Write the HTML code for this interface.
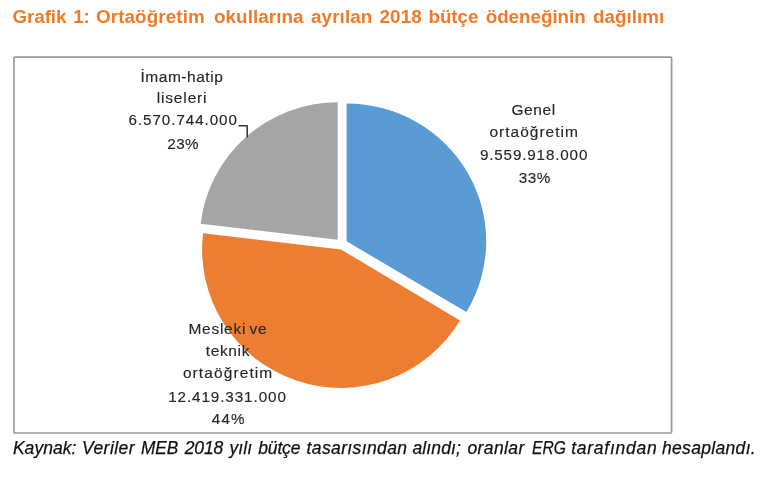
<!DOCTYPE html>
<html lang="tr">
<head>
<meta charset="utf-8">
<title>Grafik 1: Ortaöğretim okullarına ayrılan 2018 bütçe ödeneğinin dağılımı</title>
<style>
html,body{margin:0;padding:0;background:#fff}
body{width:770px;height:477px;position:relative;overflow:hidden;font-family:"Liberation Sans",sans-serif}
h1,figure,figcaption{margin:0;padding:0}
.ln{position:absolute;white-space:pre}
h1,figcaption{position:absolute;left:0;width:770px;white-space:pre}
h1 span,figcaption span{position:absolute;top:0;transform-origin:0 50%}
h1{top:4px;height:25px;font-weight:bold;font-size:18.8px;line-height:25px;color:#f07a28}
figcaption{top:436px;height:24px;font-style:italic;font-size:17.5px;line-height:24px;color:#101010;-webkit-text-stroke:0.25px #101010}
.lab .ln{font-size:15.5px;line-height:21px;color:#262626;-webkit-text-stroke:0.15px #262626}
.lab .ln.d{font-size:15.2px;line-height:21px}
svg{position:absolute;left:0;top:0}
</style>
</head>
<body>
<h1><span style="left:12.6px;letter-spacing:-0.09px">Grafik </span><span style="left:73.3px;letter-spacing:-0.15px">1: </span><span style="left:96px;letter-spacing:0.12px">Ortaöğretim </span><span style="left:214px;letter-spacing:0.08px">okullarına </span><span style="left:311px;letter-spacing:0.12px">ayrılan </span><span style="left:379.5px;letter-spacing:0.15px">2018 </span><span style="left:428.5px;letter-spacing:-0.04px">bütçe </span><span style="left:485.7px;letter-spacing:-0.01px">ödeneğinin </span><span style="left:592.9px;letter-spacing:0.05px">dağılımı</span></h1>
<figure>
<svg width="770" height="477" viewBox="0 0 770 477">
<rect x="13.95" y="57.2" width="657.63" height="375.8" rx="1" fill="#fff" stroke="#999" stroke-width="1.7"/>
<path d="M346.60 241.30L346.60 103.60A139.6 137.7 0 0 1 466.39 312.01Z" fill="#5b9bd5"/>
<path d="M340.90 249.40L460.00 320.53A138.8 138.5 0 0 1 203.05 233.24Z" fill="#ed7d31"/>
<path d="M337.70 239.70L200.64 223.66A138.0 137.5 0 0 1 337.70 102.20Z" fill="#a5a5a5"/>
<path d="M238.4 125.8H247.2V137.5" fill="none" stroke="#333" stroke-width="1.5" stroke-linejoin="round"/>
</svg>
<div class="lab">
<span class="ln" style="left:140.5px;top:66px;letter-spacing:0.53px">İmam-hatip</span>
<span class="ln" style="left:156.7px;top:87px;letter-spacing:0.85px">liseleri</span>
<span class="ln d" style="left:128.6px;top:109px;letter-spacing:0.93px">6.570.744.000</span>
<span class="ln d" style="left:167.2px;top:133px;letter-spacing:0.5px">23%</span>
</div>
<div class="lab">
<span class="ln" style="left:511.4px;top:99px;letter-spacing:0.62px">Genel</span>
<span class="ln" style="left:489.4px;top:121px;letter-spacing:1.01px">ortaöğretim</span>
<span class="ln d" style="left:479.9px;top:144px;letter-spacing:0.86px">9.559.918.000</span>
<span class="ln d" style="left:518.7px;top:167px;letter-spacing:0.6px">33%</span>
</div>
<div class="lab">
<span class="ln" style="left:188.4px;top:318px;letter-spacing:0.75px;word-spacing:-1.75px">Mesleki ve</span>
<span class="ln" style="left:205.8px;top:340px;letter-spacing:0.63px">teknik</span>
<span class="ln" style="left:182.9px;top:362px;letter-spacing:1.1px">ortaöğretim</span>
<span class="ln d" style="left:168.2px;top:386px;letter-spacing:0.93px">12.419.331.000</span>
<span class="ln d" style="left:211.8px;top:408px;letter-spacing:1.15px">44%</span>
</div>
<figcaption><span style="left:12.9px;letter-spacing:0.05px">Kaynak: </span><span style="left:81.9px;letter-spacing:0.47px">Veriler </span><span style="left:141.2px;transform:scaleX(0.983)">MEB </span><span style="left:184.7px;letter-spacing:-0.13px">2018 </span><span style="left:229.6px;letter-spacing:0.03px">yılı </span><span style="left:258.3px;letter-spacing:-0.17px">bütçe </span><span style="left:306.6px;letter-spacing:0.37px">tasarısından </span><span style="left:412.5px;letter-spacing:0.11px">alındı; </span><span style="left:467.5px;letter-spacing:0.39px">oranlar </span><span style="left:532px;transform:scaleX(0.893)">ERG </span><span style="left:571.2px;letter-spacing:0.75px">tarafından </span><span style="left:662px;letter-spacing:0.32px">hesaplandı.</span></figcaption>
</figure>
</body>
</html>
